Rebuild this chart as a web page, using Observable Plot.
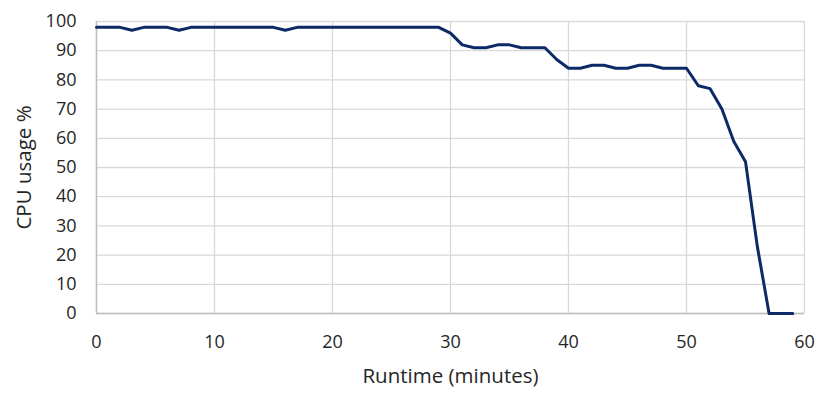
<!DOCTYPE html>
<html>
<head>
<meta charset="utf-8">
<script src="https://cdn.jsdelivr.net/npm/d3@7"></script>
<script src="https://cdn.jsdelivr.net/npm/@observablehq/plot@0.6"></script>
<style>
  html, body { margin: 0; padding: 0; background: #fff; }
  #chart svg { display: block; }
</style>
</head>
<body>
<div id="chart"></div>
<script>
const minutes = [0,1,2,3,4,5,6,7,8,9,10,11,12,13,14,15,16,17,18,19,20,21,22,23,24,25,26,27,28,29,30,31,32,33,34,35,36,37,38,39,40,41,42,43,44,45,46,47,48,49,50,51,52,53,54,55,56,57,58,59];
const cpuUsage = [98,98,98,97,98,98,98,97,98,98,98,98,98,98,98,98,97,98,98,98,98,98,98,98,98,98,98,98,98,98,96,92,91,91,92,92,91,91,91,87,84,84,85,85,84,84,85,85,84,84,84,78,77,70,59,52,23,0,0,0];
const xTicks = [0,10,20,30,40,50,60];
const yTicks = [0,10,20,30,40,50,60,70,80,90,100];
const xLabel = "Runtime (minutes)";
const yLabel = "CPU usage %";

const data = minutes.map((m, i) => ({minute: m, cpu: cpuUsage[i]}));

const chart = Plot.plot({
  width: 830,
  height: 408,
  marginLeft: 96,
  marginRight: 26,
  marginTop: 21,
  marginBottom: 95,
  style: {fontFamily: "'Open Sans', sans-serif", fontSize: "18px", color: "#262626", background: "#fff"},
  x: {domain: [0, 60]},
  y: {domain: [0, 100]},
  marks: [
    Plot.ruleX(xTicks, {stroke: "#d9d9d9", strokeWidth: 1.3, strokeOpacity: 1}),
    Plot.ruleY(yTicks, {stroke: "#d9d9d9", strokeWidth: 1.3, strokeOpacity: 1}),
    Plot.ruleX([0], {stroke: "#bfbfbf", strokeWidth: 1.5}),
    Plot.ruleY([0], {stroke: "#bfbfbf", strokeWidth: 1.5}),
    Plot.axisX({ticks: xTicks, tickSize: 0, tickPadding: 22, label: null, fontSize: 18}),
    Plot.axisY({ticks: yTicks, tickSize: 0, tickPadding: 20, label: null, fontSize: 18}),
    Plot.text([xLabel], {frameAnchor: "bottom", lineAnchor: "middle", textAnchor: "middle", dy: 63, fontSize: 20.5, fill: "#262626"}),
    Plot.text([yLabel], {frameAnchor: "left", textAnchor: "middle", lineAnchor: "middle", dx: -72, rotate: -90, fontSize: 20.5, fill: "#262626"}),
    Plot.line(data, {x: "minute", y: "cpu", stroke: "#0b2a66", strokeWidth: 3, strokeLinejoin: "round"})
  ]
});
document.getElementById("chart").append(chart);
</script>
</body>
</html>
